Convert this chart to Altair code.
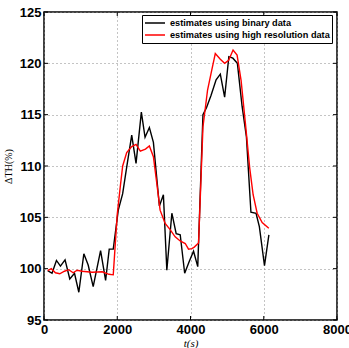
import altair as alt
import pandas as pd

# black: estimates using binary data
bin_t = [101,219,340,449,575,704,833,951,1088,1206,1343,1545,1682,1781,1891,2028,2148,2258,2395,2513,
         2658,2759,2877,2987,3151,3260,3354,3491,3609,3719,3841,3965,4083,4198,4340,4439,4562,4699,4814,4932,
         5047,5157,5280,5409,5527,5650,5790,5880,6020,6140]
bin_v = [99.8,99.55,100.8,100.25,100.85,99.0,99.55,97.7,101.45,100.35,98.25,101.75,98.85,101.9,101.9,105.7,107.3,109.9,113.0,110.25,
         115.25,112.8,113.75,112.3,106.1,107.2,99.85,105.4,103.4,103.3,99.55,100.7,101.7,100.2,115.0,115.7,116.9,118.4,118.95,116.7,
         120.65,120.5,120.0,115.8,112.84,105.5,105.4,104.1,100.3,103.3]

# red: estimates using high resolution data
hr_t = [101,200,312,430,559,677,795,904,1041,1315,1589,1773,1891,2000,2080,2148,2258,2395,2513,2630,
        2770,2877,2987,3080,3170,3308,3444,3581,3719,3856,3946,4039,4102,4220,4340,4466,4560,4677,4814,4932,
        5042,5162,5272,5381,5499,5617,5710,5820,5957,6138]
hr_v = [99.8,100.0,99.6,99.5,99.75,99.9,99.6,99.85,99.75,99.65,99.7,99.45,99.4,105.3,107.9,110.0,111.3,111.9,112.1,111.45,
        111.65,111.95,110.9,108.3,105.7,104.4,103.8,103.1,102.7,102.45,101.9,101.95,102.1,102.5,113.8,117.4,119.0,120.95,120.4,120.0,
        120.3,121.3,120.8,118.35,114.15,109.8,107.2,105.4,104.5,103.93]

series_names = ["estimates using binary data", "estimates using high resolution data"]
series_colors = ["#000000", "#ff0000"]

x_ticks = [0, 2000, 4000, 6000, 8000]
y_ticks = [95, 100, 105, 110, 115, 120, 125]

W, H = 293, 308

df = pd.concat([
    pd.DataFrame({"t": bin_t, "v": bin_v, "s": series_names[0]}),
    pd.DataFrame({"t": hr_t, "v": hr_v, "s": series_names[1]}),
])

xs = alt.Scale(domain=[0, 8000], nice=False)
ys = alt.Scale(domain=[95, 125], nice=False)

lines = alt.Chart(df).mark_line(strokeWidth=1.4, clip=True).encode(
    x=alt.X("t:Q", scale=xs,
            axis=alt.Axis(values=x_ticks, format="d", title="t(s)", grid=True, gridDash=[1, 3], gridColor="#888888",
                          gridOpacity=1, ticks=False, domain=False, labelFont="Liberation Sans",
                          labelFontWeight="bold", labelFontSize=13, labelColor="black", labelPadding=3,
                          titleFont="Liberation Serif", titleFontStyle="italic", titleFontWeight="normal",
                          titleFontSize=11, titleColor="black", titlePadding=1, labelFlush=False)),
    y=alt.Y("v:Q", scale=ys,
            axis=alt.Axis(values=y_ticks, format="d", title="ΔTH(%)", grid=True, gridDash=[1, 3], gridColor="#888888",
                          gridOpacity=1, ticks=False, domain=False, labelFont="Liberation Sans",
                          labelFontWeight="bold", labelFontSize=13, labelColor="black", labelPadding=3,
                          titleFont="Liberation Serif", titleFontWeight="normal", titleFontSize=10,
                          titleColor="black", titlePadding=6)),
    color=alt.Color("s:N", scale=alt.Scale(domain=series_names, range=series_colors),
                    legend=alt.Legend(title=None, orient="none", legendX=98, legendY=3,
                                      fillColor="white", strokeColor="black", padding=2,
                                      symbolType="M-1,0H3", symbolSize=100, symbolStrokeWidth=1.5,
                                      labelFont="Liberation Sans", labelFontWeight="bold",
                                      labelFontSize=9.2, labelColor="black", rowPadding=0,
                                      labelOffset=14)),
    order=alt.Order("t:Q"),
)

xt = pd.DataFrame({"t": x_ticks})
yt = pd.DataFrame({"v": y_ticks})
tick_len = 4
xticks_b = alt.Chart(xt).mark_rule(color="black", strokeWidth=1).encode(
    x=alt.X("t:Q", scale=xs), y=alt.value(H), y2=alt.value(H - tick_len))
xticks_t = alt.Chart(xt).mark_rule(color="black", strokeWidth=1).encode(
    x=alt.X("t:Q", scale=xs), y=alt.value(0), y2=alt.value(tick_len))
yticks_l = alt.Chart(yt).mark_rule(color="black", strokeWidth=1).encode(
    y=alt.Y("v:Q", scale=ys), x=alt.value(0), x2=alt.value(tick_len))
yticks_r = alt.Chart(yt).mark_rule(color="black", strokeWidth=1).encode(
    y=alt.Y("v:Q", scale=ys), x=alt.value(W), x2=alt.value(W - tick_len))

chart = alt.layer(lines, xticks_b, xticks_t, yticks_l, yticks_r).properties(
    width=W, height=H,
    autosize=alt.AutoSizeParams(type="none"),
    padding={"left": 44, "top": 12, "right": 12, "bottom": 28},
    background="white",
).configure_view(stroke="black", strokeWidth=1.5)

chart.save("out.html", embed_options={"renderer": "svg", "actions": False})
